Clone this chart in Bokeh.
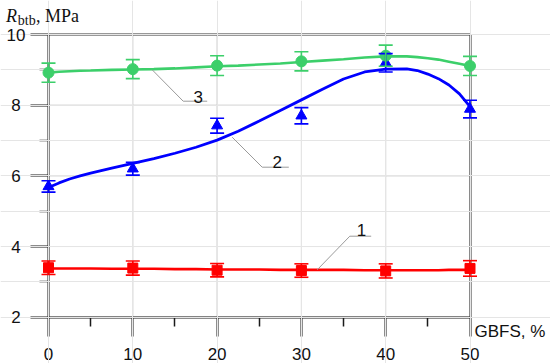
import numpy as np
from bokeh.plotting import figure
from bokeh.models import Range1d, LinearAxis, FixedTicker, ColumnDataSource, Whisker, TeeHead
from bokeh.core.properties import value
from bokeh.embed import file_html
from bokeh.resources import INLINE

# ---------------- data ----------------
gbfs = [0, 10, 20, 30, 40, 50]

s1_vals = [3.40, 3.39, 3.33, 3.32, 3.31, 3.38]
s1_err = [0.19, 0.20, 0.19, 0.19, 0.20, 0.22]
s2_vals = [5.70, 6.20, 7.42, 7.70, 9.20, 7.89]
s2_err = [0.16, 0.18, 0.21, 0.23, 0.26, 0.25]
s3_vals = [8.92, 9.02, 9.12, 9.24, 9.40, 9.11]
s3_err = [0.27, 0.27, 0.28, 0.27, 0.30, 0.27]

# fitted curves at sample positions
curve_x = [0, 1.25, 2.5, 3.75, 5, 7.5, 10, 12.5, 15, 17.5, 20, 22.5, 25, 27.5, 30,
           32.5, 35, 37.5, 40, 42.5, 43.75, 45, 46.25, 47.5, 48.75, 50]
curve1 = [3.38, 3.38, 3.38, 3.38, 3.38, 3.37, 3.37, 3.37, 3.36, 3.36, 3.35, 3.35, 3.35,
          3.34, 3.34, 3.34, 3.34, 3.33, 3.33, 3.33, 3.33, 3.33, 3.33, 3.34, 3.34, 3.34]
curve2 = [5.67, 5.80, 5.91, 6.00, 6.08, 6.22, 6.35, 6.49, 6.64, 6.81, 7.01, 7.26, 7.55,
          7.85, 8.15, 8.45, 8.74, 8.94, 9.02, 9.03, 8.98, 8.88, 8.75, 8.57, 8.32, 7.96]
curve3 = [8.92, 8.945, 8.96, 8.975, 8.98, 9.00, 9.01, 9.02, 9.04, 9.07, 9.10, 9.12, 9.15,
          9.18, 9.22, 9.26, 9.30, 9.35, 9.38, 9.38, 9.36, 9.33, 9.29, 9.23, 9.17, 9.11]

x_ticks = [0, 10, 20, 30, 40, 50]
x_minor = [5, 15, 25, 35, 45]
y_ticks = [2, 4, 6, 8, 10]
y_minor = [3, 5, 7, 9]
y_tick_labels = ["2", "4", "6", "8", "10"]
x_bounds = (0, 50)
y_bounds = (2, 10)

RED, BLUE, GREEN = "#ff0000", "#0000ff", "#3ccf6a"
AX = "#1a1a1a"
TXT = "#111111"

# ---------------- layout (canvas pixels) ----------------
W, H = 550, 363
X0_PX, X50_PX = 48.0, 469.5
Y10_PX, Y2_PX = 34.0, 316.7
sx = (X50_PX - X0_PX) / (x_bounds[1] - x_bounds[0])
sy = (Y2_PX - Y10_PX) / (y_bounds[1] - y_bounds[0])
x_start = x_bounds[0] - X0_PX / sx
x_end = x_start + W / sx
y_end = y_bounds[1] + Y10_PX / sy
y_start = y_end - H / sy


def px(cx, cy):
    return x_start + cx / sx, y_end - cy / sy


p = figure(width=W, height=H, output_backend="svg", toolbar_location=None,
           x_range=Range1d(x_start, x_end), y_range=Range1d(y_start, y_end),
           x_axis_location=None, y_axis_location=None, min_border=0)
p.outline_line_color = None
p.background_fill_color = "white"
p.border_fill_color = "white"

# grid lines
gx = list(x_ticks)
p.segment(x0=gx, x1=gx, y0=[y_bounds[0]] * len(gx), y1=[y_bounds[1]] * len(gx),
          line_color="#c4c4c4", line_width=1, level="image")
gy = list(y_ticks)
p.segment(x0=[x_bounds[0]] * len(gy), x1=[x_bounds[1]] * len(gy), y0=gy, y1=gy,
          line_color="#c4c4c4", line_width=1, level="image")


def style_axis(ax, tick_out, minor_out, standoff):
    ax.axis_line_color = AX
    ax.axis_line_width = 2
    ax.major_tick_line_color = AX
    ax.major_tick_line_width = 2
    ax.major_tick_in = 0
    ax.major_tick_out = tick_out
    ax.minor_tick_line_color = AX
    ax.minor_tick_line_width = 1.5
    ax.minor_tick_in = 0
    ax.minor_tick_out = minor_out
    ax.major_label_text_font = "Liberation Sans"
    ax.major_label_text_font_size = "17px"
    ax.major_label_text_color = TXT
    ax.major_label_standoff = standoff
    ax.level = "underlay"


yax = LinearAxis(fixed_location=0, bounds=y_bounds,
                 ticker=FixedTicker(ticks=y_ticks, minor_ticks=y_minor))
style_axis(yax, 18, 9, 3)
yax.major_label_text_color = None
p.add_layout(yax, "left")

xax = LinearAxis(fixed_location=2, bounds=x_bounds,
                 ticker=FixedTicker(ticks=x_ticks, minor_ticks=x_minor))
style_axis(xax, 19, 9, 12)
p.add_layout(xax, "below")

for loc, fixed, bnds in (("above", 10, x_bounds), ("right", 50, y_bounds)):
    bx = LinearAxis(fixed_location=fixed, bounds=bnds, ticker=FixedTicker(ticks=[]))
    bx.axis_line_color = "#333333"
    bx.axis_line_width = 2
    bx.major_tick_line_color = None
    bx.minor_tick_line_color = None
    bx.major_label_text_color = None
    bx.level = "underlay"
    p.add_layout(bx, loc)

# y tick labels (centered, as in the reference)
ylab_x = px(15.5, 0)[0]
p.text([ylab_x] * len(y_ticks), y_ticks, text=y_tick_labels, text_font=value("Liberation Sans"),
       text_font_size="17px", text_align="center", text_baseline="middle", text_color=TXT)

# fitted curves
p.line(curve_x, curve1, line_color=RED, line_width=2.6)
p.line(curve_x, curve2, line_color=BLUE, line_width=2.8)
p.line(curve_x, curve3, line_color=GREEN, line_width=2.6)

# error bars + markers
for vals, errs, col, marker, size in ((s1_vals, s1_err, RED, "square", 10),
                                      (s2_vals, s2_err, BLUE, "triangle", 11),
                                      (s3_vals, s3_err, GREEN, "circle", 11)):
    v = np.array(vals)
    e = np.array(errs)
    src = ColumnDataSource(dict(x=gbfs, y=vals, upper=(v + e).tolist(), lower=(v - e).tolist()))
    w = Whisker(source=src, base="x", upper="upper", lower="lower", dimension="height",
                line_color=col, line_width=1.6,
                upper_head=TeeHead(size=14, line_color=col, line_width=1.6),
                lower_head=TeeHead(size=14, line_color=col, line_width=1.6))
    w.level = "glyph"
    p.add_layout(w)
    p.scatter("x", "y", source=src, marker=marker, size=size, fill_color=col, line_color=col)

# leader lines and curve numbers
leaders = [
    [(151.7, 69.3), (182.7, 100.7), (206.7, 100.7)],
    [(231.7, 136.7), (261.7, 166.7), (288.3, 166.7)],
    [(316.7, 269.3), (349.3, 235.7), (370.7, 235.7)],
]
xs, ys = [], []
for pts in leaders:
    d = [px(a, b) for a, b in pts]
    xs.append([q[0] for q in d])
    ys.append([q[1] for q in d])
p.multi_line(xs, ys, line_color="#9a9a9a", line_width=1)

num_labels = ["3", "2", "1"]
num_pos = [(197.7, 96.0), (276.7, 161.7), (361.0, 229.3)]
nx = [px(a, b)[0] for a, b in num_pos]
ny = [px(a, b)[1] for a, b in num_pos]
p.text(nx, ny, text=num_labels, text_font=value("Liberation Sans"), text_font_size="17px",
       text_align="center", text_baseline="alphabetic", text_color=TXT)

# axis titles
gx_, gy_ = px(474, 331)
p.text([gx_], [gy_], text=["GBFS, %"], text_font=value("Liberation Sans"), text_font_size="17px",
       text_align="left", text_baseline="alphabetic", text_color=TXT)

rx, ry = px(5.5, 15.5)
p.text([rx], [ry], text=["R"], text_font=value("Liberation Serif"), text_font_size="18px",
       text_font_style="italic", text_align="left", text_baseline="alphabetic", text_color=TXT)
bx_, by_ = px(17.3, 19.5)
p.text([bx_], [by_], text=["btb"], text_font=value("Liberation Serif"), text_font_size="14px",
       text_align="left", text_baseline="alphabetic", text_color=TXT)
mx, my = px(35.5, 15.5)
p.text([mx], [my], text=[", MPa"], text_font=value("Liberation Serif"), text_font_size="18px",
       text_align="left", text_baseline="alphabetic", text_color=TXT)

open("out.html", "w").write(file_html(p, INLINE))
